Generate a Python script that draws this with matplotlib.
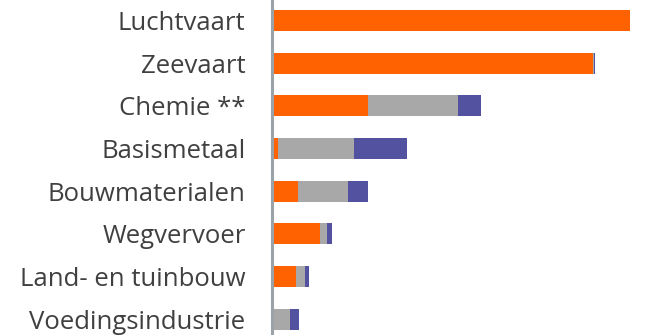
import numpy as np
import matplotlib
matplotlib.use("Agg")
import matplotlib.pyplot as plt

# sectors, top to bottom
sectors = ["Luchtvaart", "Zeevaart", "Chemie **", "Basismetaal",
           "Bouwmaterialen", "Wegvervoer", "Land- en tuinbouw", "Voedingsindustrie"]
orange_vals = [100.0, 89.6, 26.4, 1.1, 6.7, 12.9, 6.2, 0.0]
grey_vals = [0.0, 0.3, 25.3, 21.3, 14.0, 2.0, 2.5, 4.5]
purple_vals = [0.0, 0.3, 6.5, 14.9, 5.6, 1.4, 1.1, 2.5]

ORANGE = "#FF6200"
GREY = "#A8A8A8"
PURPLE = "#5252A0"

fig = plt.figure(figsize=(6.71, 3.35), dpi=100)
ax = fig.add_axes([272 / 671, 0, 1 - 272 / 671, 1])

y = np.arange(len(sectors))
o = np.array(orange_vals)
g = np.array(grey_vals)
p = np.array(purple_vals)
h = 0.49
ax.barh(y, o, height=h, color=ORANGE, left=0)
ax.barh(y, g, height=h, color=GREY, left=o)
ax.barh(y, p, height=h, color=PURPLE, left=o + g)

ax.set_xlim(-0.6, 111.5)
ax.set_ylim(7.37, -0.48)

for s in ["top", "right", "bottom"]:
    ax.spines[s].set_visible(False)
ax.spines["left"].set_color("#9CA3A8")
ax.spines["left"].set_linewidth(2.2)
ax.set_xticks([])
ax.set_yticks(y)
ax.set_yticklabels(sectors, fontsize=18.5, color="#404040", family="Open Sans")
ax.tick_params(axis="y", length=0, pad=19)

fig.savefig("out.png", dpi=100)
